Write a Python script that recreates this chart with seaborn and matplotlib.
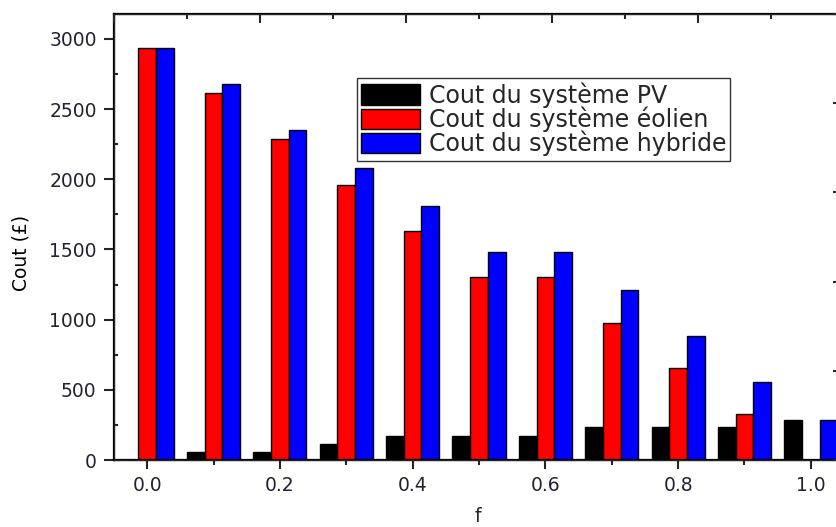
import numpy as np
import pandas as pd
import matplotlib
matplotlib.use("Agg")
import matplotlib.pyplot as plt
from matplotlib.patches import Patch
from matplotlib.ticker import MultipleLocator, FormatStrFormatter
import seaborn as sns

# Cost of each system versus the fraction f
f_values = [0.0, 0.1, 0.2, 0.3, 0.4, 0.5, 0.6, 0.7, 0.8, 0.9, 1.0]
cout_pv = [0, 57, 57, 114, 171, 171, 171, 238, 238, 238, 285]
cout_eolien = [2938, 2613, 2285, 1960, 1634, 1306, 1306, 978, 653, 326, 0]
cout_hybride = [2938, 2677, 2352, 2079, 1810, 1484, 1484, 1211, 884, 558, 285]

series_labels = ["Cout du système PV", "Cout du système éolien", "Cout du système hybride"]
series_colors = ["#000000", "#ff0000", "#0000ff"]

df = pd.DataFrame({
    "f": f_values * 3,
    "cout": cout_pv + cout_eolien + cout_hybride,
    "serie": [series_labels[0]] * len(f_values)
             + [series_labels[1]] * len(f_values)
             + [series_labels[2]] * len(f_values),
})

sns.set_style("ticks")
plt.rcParams["font.family"] = ["DejaVu Sans"]

fig = plt.figure(figsize=(8.37, 5.27), dpi=100)
ax = fig.add_axes([114 / 837, 1 - 460 / 527, 730 / 837, 446 / 527])

sns.barplot(
    data=df, x="f", y="cout", hue="serie", hue_order=series_labels,
    palette=series_colors, native_scale=True, width=0.8,
    edgecolor="black", linewidth=1.0, saturation=1.0, legend=False, ax=ax,
)

ax.set_xlim(-0.05, 1.05)
ax.set_ylim(0, 3178)

for side in ["left", "bottom", "top", "right"]:
    ax.spines[side].set_visible(True)
    ax.spines[side].set_linewidth(1.6)
    ax.spines[side].set_color("black")

ax.xaxis.set_major_locator(MultipleLocator(0.2))
ax.xaxis.set_minor_locator(MultipleLocator(0.1))
ax.yaxis.set_major_locator(MultipleLocator(500))
ax.yaxis.set_minor_locator(MultipleLocator(250))
ax.xaxis.set_major_formatter(FormatStrFormatter("%.1f"))

ax.tick_params(axis="x", which="major", direction="out", length=6.5, width=1.5,
               pad=5, labelsize=13.5, labelcolor="#222233", top=False)
ax.tick_params(axis="x", which="minor", direction="out", length=3.5, width=1.5, top=False)
ax.tick_params(axis="y", which="major", direction="out", length=7.5, width=1.5,
               pad=5, labelsize=13.5, labelcolor="#222233", right=False)
ax.tick_params(axis="y", which="minor", direction="in", length=3, width=1.5, right=False)

ax.set_xlabel("f", fontsize=13.5)
ax.set_ylabel("Cout (£)", fontsize=13.5, color="black")
ax.xaxis.set_label_coords(0.499, -0.106)
ax.yaxis.set_label_coords(-0.114, 0.464)

# Secondary top and right scales (tick marks only)
top = ax.twiny()
top.set_xlim(0, 10)
top.xaxis.set_major_locator(MultipleLocator(2))
top.xaxis.set_minor_locator(MultipleLocator(1))
top.tick_params(axis="x", which="major", direction="in", length=6.5, width=1.5,
                labeltop=False, bottom=False, labelbottom=False)
top.tick_params(axis="x", which="minor", direction="in", length=3.5, width=1.5, bottom=False)

right = ax.twinx()
right.set_ylim(0, 5)
right.yaxis.set_major_locator(MultipleLocator(1))
right.tick_params(axis="y", which="major", direction="in", length=8, width=1.5,
                  labelright=False, left=False, labelleft=False)
right.tick_params(axis="y", which="minor", length=0)

handles = [Patch(facecolor=c, edgecolor="black", linewidth=1.0) for c in series_colors]
leg = ax.legend(
    handles, series_labels, loc="upper left", bbox_to_anchor=(0.333, 0.8565),
    borderaxespad=0, fontsize=17, frameon=True, fancybox=False, edgecolor="black",
    handlelength=2.5, handleheight=0.95, handletextpad=0.35, labelspacing=-0.05,
    borderpad=0.18,
)
leg.get_frame().set_linewidth(1.0)
leg.set_zorder(10)

fig.savefig("out.png", dpi=100)
